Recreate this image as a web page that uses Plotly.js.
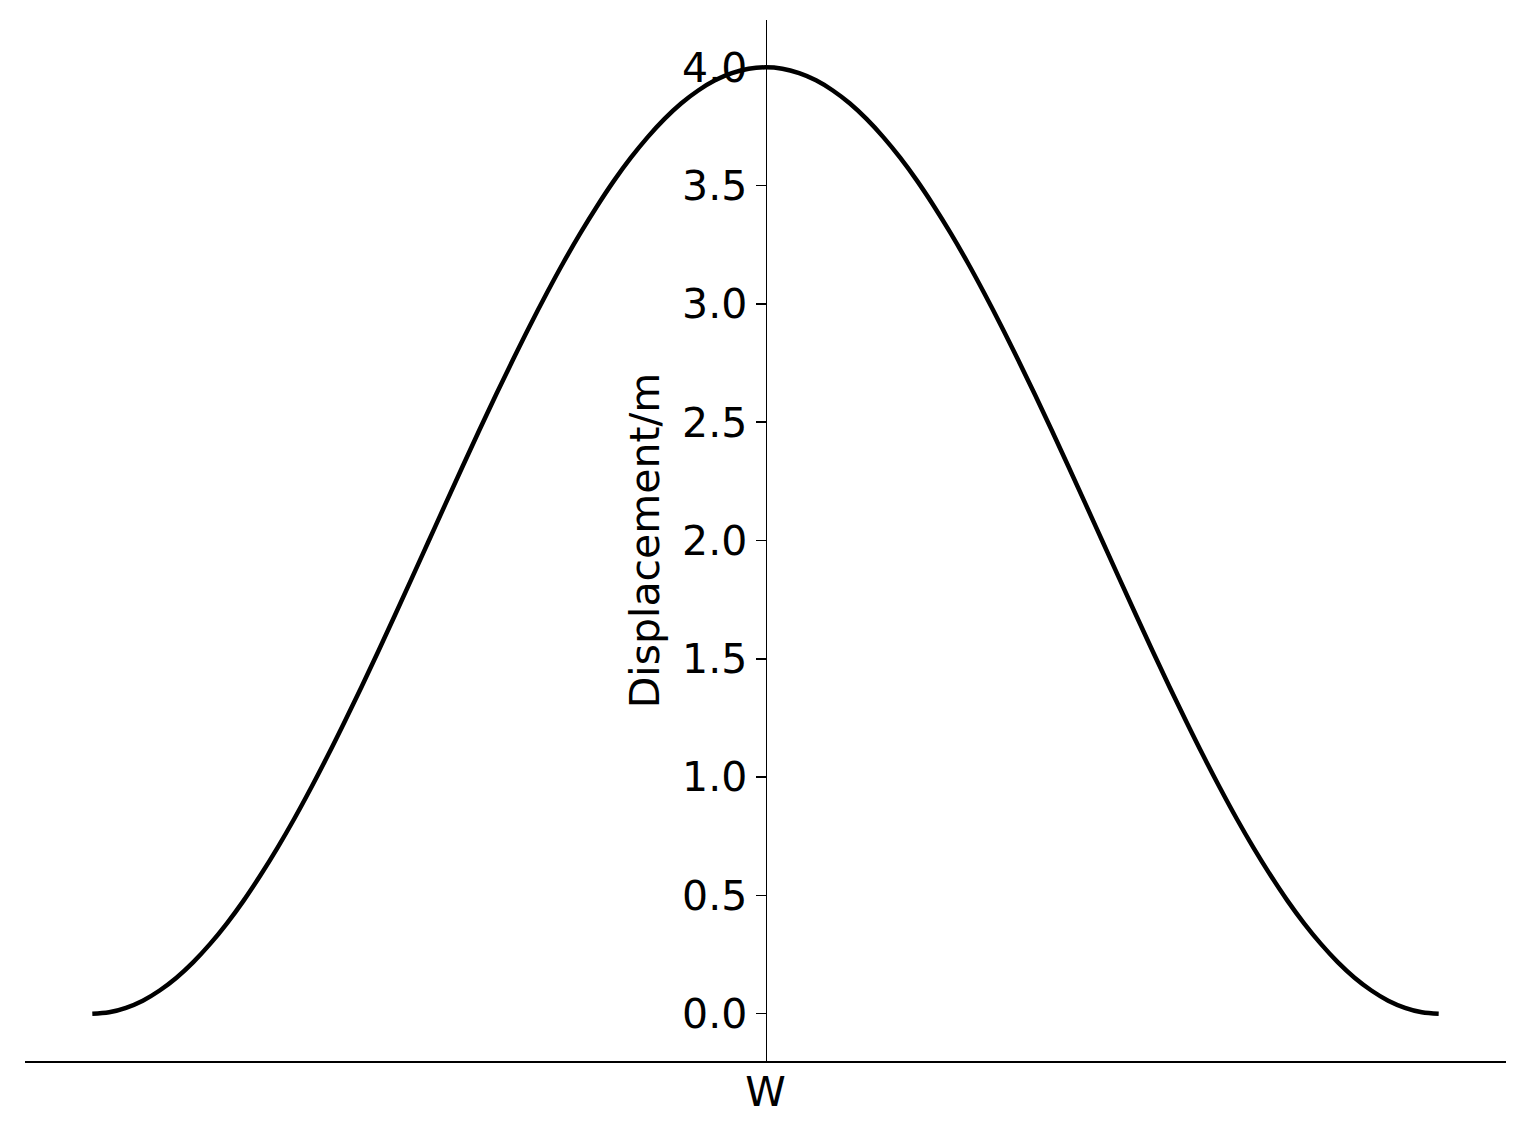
<!DOCTYPE html>
<html>
<head>
<meta charset="utf-8">
<script src="https://cdn.plot.ly/plotly-3.0.1.min.js"></script>
<style>html,body{margin:0;padding:0;background:#fff;}#chart{width:1539px;height:1129px;}</style>
</head>
<body>
<div id="chart"></div>
<script>
// Position along the span (W at the centre) and displacement
const position = [
  -1.000,-0.975,-0.950,-0.925,-0.900,-0.875,-0.850,-0.825,-0.800,-0.775,-0.750,-0.725,-0.700,-0.675,-0.650,-0.625,-0.600,-0.575,-0.550,-0.525,
  -0.500,-0.475,-0.450,-0.425,-0.400,-0.375,-0.350,-0.325,-0.300,-0.275,-0.250,-0.225,-0.200,-0.175,-0.150,-0.125,-0.100,-0.075,-0.050,-0.025,
  0.000,0.025,0.050,0.075,0.100,0.125,0.150,0.175,0.200,0.225,0.250,0.275,0.300,0.325,0.350,0.375,0.400,0.425,0.450,0.475,
  0.500,0.525,0.550,0.575,0.600,0.625,0.650,0.675,0.700,0.725,0.750,0.775,0.800,0.825,0.850,0.875,0.900,0.925,0.950,0.975,1.000];
const displacement = [
  0.000,0.006,0.025,0.055,0.098,0.152,0.218,0.295,0.382,0.479,0.586,0.701,0.824,0.955,1.092,1.235,1.382,1.533,1.687,1.843,
  2.000,2.157,2.313,2.467,2.618,2.765,2.908,3.045,3.176,3.299,3.414,3.521,3.618,3.705,3.782,3.848,3.902,3.945,3.975,3.994,
  4.000,3.994,3.975,3.945,3.902,3.848,3.782,3.705,3.618,3.521,3.414,3.299,3.176,3.045,2.908,2.765,2.618,2.467,2.313,2.157,
  2.000,1.843,1.687,1.533,1.382,1.235,1.092,0.955,0.824,0.701,0.586,0.479,0.382,0.295,0.218,0.152,0.098,0.055,0.025,0.006,0.000];
const xTickVals = [0];
const xTickText = ['W'];
const yTickVals = [0,0.5,1,1.5,2,2.5,3,3.5,4];
const yTickText = ['0.0','0.5','1.0','1.5','2.0','2.5','3.0','3.5','4.0'];
const yTitle = 'Displacement/m';

const font = {family: 'DejaVu Sans', size: 41, color: '#000'};
Plotly.newPlot('chart', [{
  x: position, y: displacement, type: 'scatter', mode: 'lines',
  line: {color: '#000', width: 4.5, shape: 'spline', smoothing: 1.0},
  hoverinfo: 'skip'
}], {
  width: 1539, height: 1129,
  margin: {l: 25, r: 33, t: 20, b: 68},
  paper_bgcolor: '#fff', plot_bgcolor: '#fff',
  showlegend: false,
  font: font,
  xaxis: {
    range: [-1.1, 1.1], showgrid: false, zeroline: false,
    showline: true, linecolor: '#000', linewidth: 1.6,
    tickmode: 'array', tickvals: xTickVals, ticktext: xTickText,
    ticks: '', tickfont: font, ticklabelstandoff: -6
  },
  yaxis: {
    range: [-0.2, 4.2], showgrid: false, zeroline: false,
    anchor: 'free', position: 0.5,
    showline: true, linecolor: '#000', linewidth: 1.6,
    tickmode: 'array', tickvals: yTickVals, ticktext: yTickText,
    ticks: 'outside', ticklen: 10, tickwidth: 1.6, tickcolor: '#000',
    tickfont: font,
    title: {text: yTitle, font: font, standoff: 8}
  }
}, {displayModeBar: false, staticPlot: true});
</script>
</body>
</html>
